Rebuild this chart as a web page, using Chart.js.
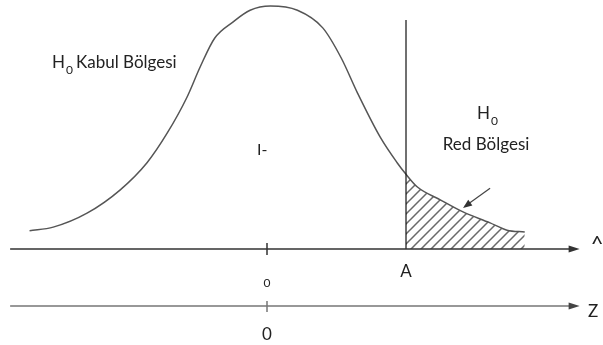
<!DOCTYPE html>
<html>
<head>
<meta charset="utf-8">
<script src="https://cdn.jsdelivr.net/npm/chart.js@4.4.0/dist/chart.umd.min.js"></script>
<style>
  html, body { margin: 0; padding: 0; background: #fff; }
  #wrap { width: 603px; height: 345px; }
</style>
</head>
<body>
<div id="wrap"><canvas id="c"></canvas></div>
<script>
// egri (z birimi, yogunluk)
var curveX = [-2.81, -2.53, -2.13, -1.74, -1.42, -1.18, -0.95, -0.79, -0.62, -0.40, -0.20, 0.04, 0.36, 0.66, 0.88, 1.07, 1.34, 1.54, 1.645, 1.78, 2.05, 2.32, 2.64, 2.84, 3.05];
var curveY = [0.030, 0.036, 0.059, 0.097, 0.142, 0.191, 0.249, 0.300, 0.347, 0.374, 0.393, 0.400, 0.393, 0.364, 0.314, 0.257, 0.184, 0.142, 0.123, 0.102, 0.081, 0.061, 0.043, 0.031, 0.028];
var kritikDeger = 1.645;     // A
var kritikUst = 0.377;
var ortalama = 0;
var xBaslangic = -3.04;
var xBitis = 3.70;
var zEkseniY = -0.094;

var metinKabul = "Kabul Bölgesi";
var metinRed = "Red Bölgesi";
var metinOran = "I-";
var etiketA = "A";
var etiketSifir = "0";
var etiketZ = "Z";
var etiketUst = "^";

function noktalar(xs, ys) {
    var arr = [];
    for (var i = 0; i < xs.length; i++) arr.push({x: xs[i], y: ys[i]});
    return arr;
}

var kuyruk = [];
for (var i = 0; i < curveX.length; i++) {
    if (curveX[i] >= kritikDeger) kuyruk.push({x: curveX[i], y: curveY[i]});
}

function taramaDeseni() {
    var p = document.createElement('canvas');
    p.width = 10; p.height = 10;
    var g = p.getContext('2d');
    g.strokeStyle = '#6a6a6a';
    g.lineWidth = 1.5;
    g.beginPath();
    g.moveTo(-1, 11); g.lineTo(11, -1);
    g.moveTo(-6, 6); g.lineTo(6, -6);
    g.moveTo(4, 16); g.lineTo(16, 4);
    g.stroke();
    return g.createPattern(p, 'repeat');
}

function ok(ctx, x1, y1, x2, y2, boy, gen) {
    var a = Math.atan2(y2 - y1, x2 - x1);
    ctx.beginPath();
    ctx.moveTo(x2, y2);
    ctx.lineTo(x2 - boy * Math.cos(a) + gen * Math.sin(a), y2 - boy * Math.sin(a) - gen * Math.cos(a));
    ctx.lineTo(x2 - boy * Math.cos(a) - gen * Math.sin(a), y2 - boy * Math.sin(a) + gen * Math.cos(a));
    ctx.closePath();
    ctx.fill();
}

var cizimEklentisi = {
    id: 'cizim',
    afterDatasetsDraw: function(chart) {
        var ctx = chart.ctx;
        var sx = chart.scales.x, sy = chart.scales.y;
        var X = function(v) { return sx.getPixelForValue(v); };
        var Y = function(v) { return sy.getPixelForValue(v); };
        ctx.save();

        // ust eksen
        ctx.strokeStyle = '#333';
        ctx.fillStyle = '#333';
        ctx.lineWidth = 1.5;
        ctx.beginPath();
        ctx.moveTo(X(xBaslangic), Y(0)); ctx.lineTo(X(xBitis) - 8, Y(0));
        ctx.moveTo(X(ortalama), Y(0) - 6); ctx.lineTo(X(ortalama), Y(0) + 6);
        ctx.stroke();
        ok(ctx, X(xBaslangic), Y(0), X(xBitis), Y(0), 11, 3.5);

        // z ekseni
        ctx.strokeStyle = '#777';
        ctx.fillStyle = '#444';
        ctx.beginPath();
        ctx.moveTo(X(xBaslangic), Y(zEkseniY)); ctx.lineTo(X(xBitis) - 8, Y(zEkseniY));
        ctx.moveTo(X(ortalama), Y(zEkseniY) - 5); ctx.lineTo(X(ortalama), Y(zEkseniY) + 6);
        ctx.stroke();
        ok(ctx, X(xBaslangic), Y(zEkseniY), X(xBitis), Y(zEkseniY), 11, 3.5);

        // gosterge oku
        ctx.strokeStyle = '#444';
        ctx.fillStyle = '#333';
        ctx.lineWidth = 1.2;
        ctx.beginPath();
        ctx.moveTo(X(2.64), Y(0.100)); ctx.lineTo(X(2.34), Y(0.070));
        ctx.stroke();
        ok(ctx, X(2.64), Y(0.100), X(2.32), Y(0.0675), 9, 3.5);

        // metinler
        ctx.fillStyle = '#222';
        ctx.textBaseline = 'alphabetic';
        ctx.textAlign = 'left';
        ctx.font = '17px Lato';
        var hx = X(-2.544), hy = Y(0.298);
        ctx.fillText('H', hx, hy);
        var hw = ctx.measureText('H').width;
        ctx.font = '12px Lato';
        ctx.fillText('0', hx + hw + 1, hy + 6);
        ctx.font = '17px Lato';
        ctx.fillText(metinKabul, X(-2.544) + hw + 11, hy);

        var rx = X(2.485), ry = Y(0.214);
        ctx.fillText('H', rx, ry);
        var rw = ctx.measureText('H').width;
        ctx.font = '12px Lato';
        ctx.fillText('0', rx + rw + 1, ry + 6);
        ctx.font = '17px Lato';
        ctx.textAlign = 'center';
        ctx.fillText(metinRed, X(2.592), Y(0.163));

        ctx.textAlign = 'left';
        ctx.font = '16px Lato';
        ctx.fillText(metinOran, X(-0.118), Y(0.155));

        ctx.textAlign = 'center';
        ctx.font = '17px Lato';
        ctx.fillText(etiketA, X(kritikDeger), Y(-0.046));
        ctx.font = '12px Lato';
        ctx.fillText(etiketSifir, X(ortalama), Y(-0.0626));
        ctx.font = '17px Lato';
        ctx.fillText(etiketSifir, X(ortalama), Y(-0.150));
        ctx.textAlign = 'left';
        ctx.fillText(etiketZ, X(3.80), Y(-0.112));
        ctx.font = '22px Lato';
        ctx.fillText(etiketUst, X(3.83), Y(-0.004));

        ctx.restore();
    }
};

new Chart(document.getElementById('c').getContext('2d'), {
    type: 'scatter',
    data: {
        datasets: [
            { data: kuyruk, showLine: true, borderWidth: 0, pointRadius: 0,
              cubicInterpolationMode: 'monotone',
              fill: 'origin', backgroundColor: taramaDeseni(), order: 3 },
            { data: noktalar(curveX, curveY), showLine: true, borderColor: '#555', borderWidth: 1.5,
              pointRadius: 0, cubicInterpolationMode: 'monotone', fill: false, order: 2 },
            { data: [{x: kritikDeger, y: 0}, {x: kritikDeger, y: kritikUst}], showLine: true,
              borderColor: '#111', borderWidth: 1.2, pointRadius: 0, order: 1 }
        ]
    },
    options: {
        responsive: true,
        maintainAspectRatio: false,
        animation: false,
        layout: { padding: 0 },
        plugins: { legend: { display: false }, tooltip: { enabled: false } },
        scales: {
            x: { type: 'linear', min: -3.1598, max: 3.9763, display: false },
            y: { type: 'linear', min: -0.15802, max: 0.40988, display: false }
        }
    },
    plugins: [cizimEklentisi]
});
</script>
</body>
</html>
